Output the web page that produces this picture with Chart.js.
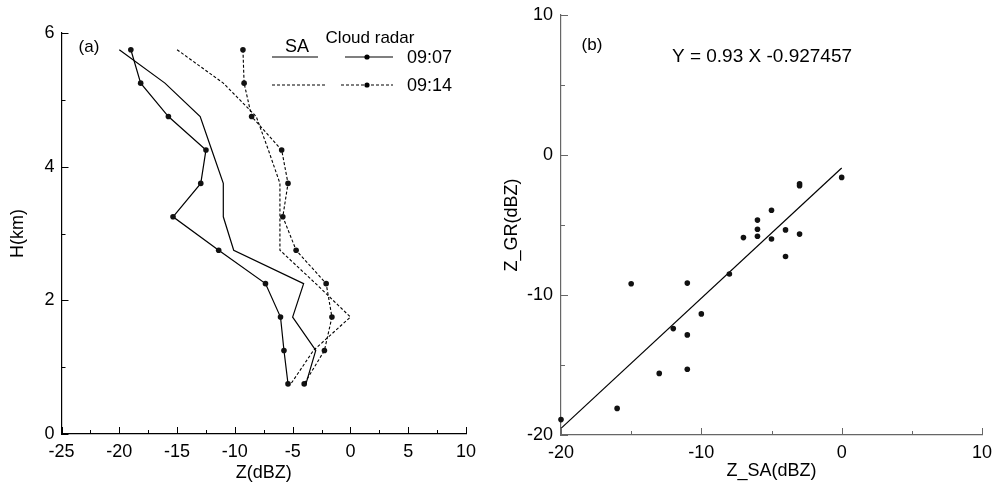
<!DOCTYPE html>
<html lang="en">
<head>
  <meta charset="UTF-8">
  <title>SA vs Cloud radar</title>
  <script src="https://cdn.jsdelivr.net/npm/chart.js"></script>
  <style>
    body { margin: 0; background: #fff; }
    #wrap { position: relative; width: 992px; height: 485px; }
    canvas { position: absolute; top: 0; }
  </style>
</head>
<body>
  <div id="wrap">
    <canvas id="profil" width="496" height="485" style="left:0"></canvas>
    <canvas id="sebaran" width="496" height="485" style="left:496px"></canvas>
  </div>

  <script>
    // (a) reflectivity profiles
    const heights = [5.75, 5.25, 4.75, 4.25, 3.75, 3.25, 2.75, 2.25, 1.75, 1.25, 0.75];
    const sa0907 = [-20.0, -16.05, -13.0, -12.0, -11.0, -11.0, -10.1, -4.05, -5.0, -3.0, -3.85];
    const cr0907 = [-19.0, -18.15, -15.75, -12.5, -12.95, -15.35, -11.4, -7.35, -6.05, -5.75, -5.4];
    const sa0914 = [-15.0, -11.0, -8.15, -7.1, -6.1, -6.1, -6.1, -3.0, 0.0, -3.2, -5.15];
    const cr0914 = [-9.3, -9.2, -8.55, -5.95, -5.4, -5.85, -4.7, -2.1, -1.6, -2.25, -4.0];

    // (b) scatter Z_SA vs Z_GR
    const zSA = [-20, -16, -15, -13, -12, -11, -11, -11, -10, -8, -7, -6, -6, -6, -5, -5, -4, -4, -3, -3, -3, 0];
    const zGR = [-18.9, -18.1, -9.2, -15.6, -12.4, -9.15, -12.85, -15.3, -11.35, -8.5, -5.9, -4.65, -5.3, -5.8,
                 -3.95, -6.0, -5.35, -7.25, -2.05, -2.2, -5.65, -1.6];
    const fitX = [-20, 0];
    const fitY = [-19.53, -0.93];

    const FONT = '"Liberation Sans", Arial, sans-serif';
    Chart.defaults.font.family = FONT;
    Chart.defaults.font.size = 18;
    Chart.defaults.color = '#000';

    const toXY = (xs, ys) => xs.map((v, i) => ({ x: v, y: ys[i] }));

    // ticks pointing into the plot, major + minor
    const inTicks = {
      id: 'inTicks',
      afterDraw(chart, args, opts) {
        const ctx = chart.ctx, a = chart.chartArea;
        ctx.save();
        ctx.strokeStyle = opts.color;
        ctx.lineWidth = 1;
        ['x', 'y'].forEach(id => {
          const s = chart.scales[id];
          const [major, minor] = opts[id];
          for (let v = s.min; v <= s.max + 1e-9; v += minor) {
            const r = v / major;
            const len = Math.abs(r - Math.round(r)) < 1e-6 ? 7 : 4;
            const p = Math.round(s.getPixelForValue(v)) + 0.5;
            ctx.beginPath();
            if (id === 'x') { ctx.moveTo(p, a.bottom); ctx.lineTo(p, a.bottom - len); }
            else { ctx.moveTo(a.left, p); ctx.lineTo(a.left + len, p); }
            ctx.stroke();
          }
        });
        ctx.restore();
      }
    };

    // free text + legend samples
    const teks = {
      id: 'teks',
      afterDraw(chart, args, opts) {
        const ctx = chart.ctx;
        ctx.save();
        ctx.fillStyle = '#000';
        ctx.strokeStyle = '#000';
        ctx.textBaseline = 'middle';
        (opts.labels || []).forEach(t => {
          ctx.font = t.size + 'px ' + FONT;
          ctx.textAlign = t.align || 'center';
          ctx.fillText(t.text, t.x, t.y);
        });
        (opts.samples || []).forEach(s => {
          ctx.lineWidth = 1.2;
          ctx.setLineDash(s.dash ? [3, 2] : []);
          ctx.beginPath();
          ctx.moveTo(s.x1, s.y); ctx.lineTo(s.x2, s.y);
          ctx.stroke();
          ctx.setLineDash([]);
          if (s.dot) {
            ctx.beginPath();
            ctx.arc(s.dot, s.y, 2.6, 0, Math.PI * 2);
            ctx.fill();
          }
        });
        ctx.restore();
      }
    };

    // fixed axis boxes, label overflow ignored so the plot area sits where the paddings say
    const fixW = w => ({ afterFit: s => { s.width = w; s.paddingTop = 0; s.paddingBottom = 0; } });
    const fixH = h => ({ afterFit: s => { s.height = h; s.paddingLeft = 0; s.paddingRight = 0; } });

    new Chart(document.getElementById('profil'), {
      type: 'scatter',
      data: {
        datasets: [
          { data: toXY(sa0907, heights), showLine: true, borderColor: '#000', borderWidth: 1.2, pointRadius: 0 },
          { data: toXY(cr0907, heights), showLine: true, borderColor: '#000', borderWidth: 1.2,
            pointRadius: 2.8, pointBackgroundColor: '#111', pointBorderWidth: 0 },
          { data: toXY(sa0914, heights), showLine: true, borderColor: '#000', borderWidth: 1.1,
            borderDash: [3, 2], pointRadius: 0 },
          { data: toXY(cr0914, heights), showLine: true, borderColor: '#000', borderWidth: 1.1,
            borderDash: [3, 2], pointRadius: 2.8, pointBackgroundColor: '#111', pointBorderWidth: 0 }
        ].map(d => Object.assign(d, { clip: false, tension: 0 }))
      },
      options: {
        responsive: false,
        animation: false,
        layout: { padding: { left: 0, right: 30, top: 33, bottom: 0 } },
        plugins: {
          legend: { display: false },
          tooltip: { enabled: false },
          inTicks: { color: '#000', x: [5, 2.5], y: [2, 1] },
          teks: {
            labels: [
              { text: '(a)', x: 89, y: 47, size: 17 },
              { text: 'SA', x: 297, y: 47, size: 18 },
              { text: 'Cloud radar', x: 370, y: 38, size: 17 },
              { text: '09:07', x: 407, y: 58, size: 18, align: 'left' },
              { text: '09:14', x: 407, y: 86, size: 18, align: 'left' }
            ],
            samples: [
              { x1: 272, x2: 318, y: 57 },
              { x1: 345, x2: 393, y: 57, dot: 367 },
              { x1: 272, x2: 325, y: 85, dash: true },
              { x1: 341, x2: 393, y: 85, dash: true, dot: 367 }
            ]
          }
        },
        scales: {
          x: Object.assign({
            type: 'linear', min: -25, max: 10,
            grid: { display: false, drawTicks: false },
            border: { display: true, color: '#000', width: 1.2 },
            ticks: { stepSize: 5, padding: 7, autoSkip: false, maxRotation: 0 },
            title: { display: true, text: 'Z(dBZ)', padding: { top: 0, bottom: 1 } }
          }, fixH(51)),
          y: Object.assign({
            type: 'linear', min: 0, max: 6,
            grid: { display: false, drawTicks: false },
            border: { display: true, color: '#000', width: 1.2 },
            ticks: { stepSize: 2, padding: 7 },
            title: { display: true, text: 'H(km)', padding: { top: 7, bottom: 0 } }
          }, fixW(61.5))
        }
      },
      plugins: [inTicks, teks]
    });

    new Chart(document.getElementById('sebaran'), {
      type: 'scatter',
      data: {
        datasets: [
          { data: toXY(zSA, zGR), pointRadius: 2.8, pointBackgroundColor: '#111', pointBorderWidth: 0, clip: false },
          { data: toXY(fitX, fitY), showLine: true, borderColor: '#000', borderWidth: 1.2, pointRadius: 0, clip: false }
        ]
      },
      options: {
        responsive: false,
        animation: false,
        layout: { padding: { left: 0, right: 10, top: 15, bottom: 0 } },
        plugins: {
          legend: { display: false },
          tooltip: { enabled: false },
          inTicks: { color: '#666', x: [10, 5], y: [10, 5] },
          teks: {
            labels: [
              { text: '(b)', x: 96, y: 45, size: 17 },
              { text: 'Y = 0.93 X -0.927457', x: 266, y: 57, size: 19 }
            ]
          }
        },
        scales: {
          x: Object.assign({
            type: 'linear', min: -20, max: 10,
            grid: { display: false, drawTicks: false },
            border: { display: true, color: '#666', width: 1.2 },
            ticks: { stepSize: 10, padding: 7, autoSkip: false, maxRotation: 0 },
            title: { display: true, text: 'Z_SA(dBZ)', padding: { top: 0, bottom: 3 } }
          }, fixH(50)),
          y: Object.assign({
            type: 'linear', min: -20, max: 10,
            grid: { display: false, drawTicks: false },
            border: { display: true, color: '#666', width: 1.2 },
            ticks: { stepSize: 10, padding: 8 },
            title: { display: true, text: 'Z_GR(dBZ)', padding: { top: 5, bottom: 0 } }
          }, fixW(65))
        }
      },
      plugins: [inTicks, teks]
    });
  </script>
</body>
</html>
